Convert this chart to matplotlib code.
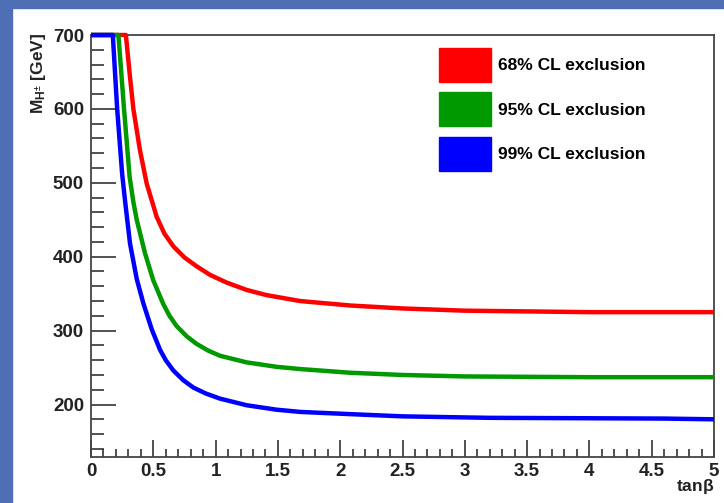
import matplotlib
matplotlib.use("Agg")
import matplotlib.pyplot as plt
from matplotlib.patches import Rectangle, Patch
from matplotlib.ticker import MultipleLocator

plt.rcParams['font.family'] = ['Liberation Sans', 'DejaVu Sans']
plt.rcParams['mathtext.default'] = 'regular'

# exclusion contours (tan beta, M_H+ in GeV)
tb68 = [0, 0.28, 0.31, 0.34, 0.393, 0.447, 0.527, 0.59, 0.661, 0.75, 0.848, 0.96, 1.089, 1.25, 1.41, 1.68, 2.08, 2.5, 3.0, 4.0, 5.0]
mh68 = [700, 700, 648, 600, 544, 499, 454, 431, 414, 399, 387, 375, 365, 355, 348, 340, 334, 330, 327, 325, 325]

tb95 = [0, 0.22, 0.265, 0.31, 0.34, 0.367, 0.433, 0.5, 0.58, 0.63, 0.688, 0.77, 0.848, 0.94, 1.035, 1.25, 1.49, 1.68, 2.08, 2.5, 3.0, 4.0, 5.0]
mh95 = [700, 700, 600, 508, 474, 450, 405, 368, 336, 320, 306, 292, 282, 273, 266, 257, 251, 248, 243, 240, 238, 237, 237]

tb99 = [0, 0.175, 0.21, 0.25, 0.273, 0.313, 0.367, 0.42, 0.487, 0.554, 0.6, 0.661, 0.74, 0.821, 0.92, 1.035, 1.25, 1.49, 1.68, 2.08, 2.5, 3.2, 4.6, 5.0]
mh99 = [700, 700, 600, 512, 476, 418, 370, 337, 302, 274, 260, 246, 233, 223, 215, 208, 199, 193, 190, 187, 184, 182, 181, 180]

labels = ["68% CL exclusion", "95% CL exclusion", "99% CL exclusion"]
colors = ["#ff0000", "#009900", "#0000ff"]

W, H = 724, 503
fig = plt.figure(figsize=(W / 100, H / 100), dpi=100)
fig.patch.set_facecolor("white")

# slide border (blue strips left and top)
fig.add_artist(Rectangle((0, 0), 12 / W, 1, transform=fig.transFigure, color="#4e6fb4", zorder=0))
fig.add_artist(Rectangle((0, 1 - 8 / H), 1, 8 / H, transform=fig.transFigure, color="#4e6fb4", zorder=0))

ax = fig.add_axes([91 / W, 1 - 457 / H, (714 - 91) / W, (457 - 35) / H])

for tb, mh, c in zip([tb68, tb95, tb99], [mh68, mh95, mh99], colors):
    ax.plot(tb, mh, color=c, lw=3.2, clip_on=False, solid_capstyle="butt",
            solid_joinstyle="round", zorder=3)

ax.set_xlim(0, 5)
ax.set_ylim(129, 700)
ax.xaxis.set_minor_locator(MultipleLocator(0.1))
ax.yaxis.set_minor_locator(MultipleLocator(20))
ax.set_xticks([0, 0.5, 1, 1.5, 2, 2.5, 3, 3.5, 4, 4.5, 5])
ax.set_xticklabels(["0", "0.5", "1", "1.5", "2", "2.5", "3", "3.5", "4", "4.5", "5"])
ax.set_yticks([200, 300, 400, 500, 600, 700])

ax.tick_params(which="both", direction="in", top=False, right=False, width=1.2, color="#333333")
ax.tick_params(which="major", axis="y", length=18, pad=5)
ax.tick_params(which="minor", axis="y", length=9)
ax.tick_params(which="major", axis="x", length=12, pad=4)
ax.tick_params(which="minor", axis="x", length=6)
for lab in ax.get_xticklabels() + ax.get_yticklabels():
    lab.set_fontsize(13.5)
    lab.set_fontweight("bold")
    lab.set_color("#222222")
for s in ax.spines.values():
    s.set_linewidth(1.3)
    s.set_color("#444444")

fig.text(714 / W, 1 - 487 / H, r"tan$\beta$", ha="right", va="center",
         fontsize=12.5, fontweight="bold", color="#222222")
fig.text(38 / W, 1 - 33 / H, r"M$_{H^{\pm}}$ [GeV]", rotation=90, ha="center", va="top",
         fontsize=12.5, fontweight="bold", color="#222222")

handles = [Patch(facecolor=c, edgecolor=c) for c in colors]
fig.legend(handles, labels, loc="upper left", bbox_to_anchor=(439 / W, 1 - 48 / H),
           frameon=False, borderpad=0, borderaxespad=0,
           handlelength=3.0, handleheight=2.63, handletextpad=0.4, labelspacing=0.6,
           prop={"weight": "bold", "size": 12.5})

fig.savefig("out.png", dpi=100, facecolor=fig.get_facecolor())
